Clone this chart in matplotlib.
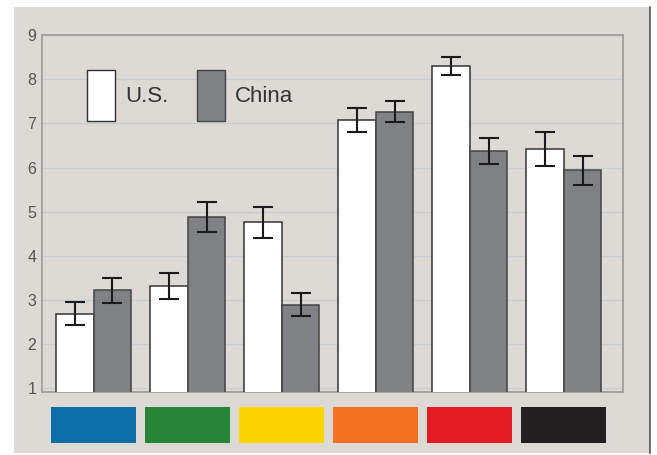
import matplotlib
matplotlib.use('Agg')
import matplotlib.pyplot as plt
import numpy as np
from matplotlib.patches import Rectangle

plt.rcParams['font.family'] = ['Liberation Sans', 'DejaVu Sans']

# data
groups = ['blue', 'green', 'yellow', 'orange', 'red', 'black']
group_colors = ['#0b6ea6', '#268537', '#fdd300', '#f37222', '#e31b23', '#231f20']
us = [2.69, 3.32, 4.76, 7.08, 8.30, 6.42]
us_err = [0.26, 0.29, 0.35, 0.27, 0.20, 0.38]
china = [3.22, 4.87, 2.90, 7.26, 6.38, 5.94]
china_err = [0.28, 0.34, 0.27, 0.24, 0.29, 0.33]
yticks = [1, 2, 3, 4, 5, 6, 7, 8, 9]

bg = '#dddad5'
fig = plt.figure(figsize=(6.57, 4.55), dpi=100, facecolor='white')
fig.patches.append(Rectangle((0.021, 0.004), 0.968, 0.981, transform=fig.transFigure,
                             facecolor=bg, edgecolor='none', zorder=-10))
fig.lines.append(plt.Line2D([0.9895, 0.9895], [0.004, 0.985], transform=fig.transFigure,
                            color='#555555', lw=1.2))

ax = fig.add_axes([0.0639, 0.1385, 0.8843, 0.7846])
ax.set_facecolor(bg)
x = np.arange(len(groups))
w = 0.40
ekw = dict(ecolor='#1a1a1a', elinewidth=1.5, capsize=7, capthick=1.5)
ax.bar(x - w / 2, us, w, bottom=0, color='white', edgecolor='#333333', lw=1.1,
       yerr=us_err, error_kw=ekw, label='U.S.', zorder=3)
ax.bar(x + w / 2, china, w, bottom=0, color='#808184', edgecolor='#444444', lw=1.1,
       yerr=china_err, error_kw=ekw, label='China', zorder=3)

ax.set_xlim(-0.55, 5.63)
ax.set_ylim(0.92, 9.0)
ax.set_yticks(yticks)
ax.set_xticks([])
ax.tick_params(axis='y', length=0, pad=4, labelsize=11.5, labelcolor='#555555')
ax.yaxis.grid(True, color='#c6ccd4', lw=1, zorder=0)
for s in ax.spines.values():
    s.set_color('#9a9a9a')
    s.set_linewidth(1.2)

leg = ax.legend(ncol=2, frameon=False, fontsize=16, loc='upper left',
                bbox_to_anchor=(0.043, 0.958), handlelength=1.26, handleheight=3.16,
                handletextpad=0.45, columnspacing=1.3, labelcolor='#333333')
for h in leg.legend_handles:
    h.set_linewidth(1.0)

# colour keys under the groups
ax2 = fig.add_axes([0.0639, 0.0264, 0.8843, 0.0791], sharex=ax)
ax2.bar(x, 1, 0.9, color=group_colors, edgecolor='none')
ax2.set_ylim(0, 1)
ax2.axis('off')

fig.savefig('out.png', dpi=100, facecolor='white')
